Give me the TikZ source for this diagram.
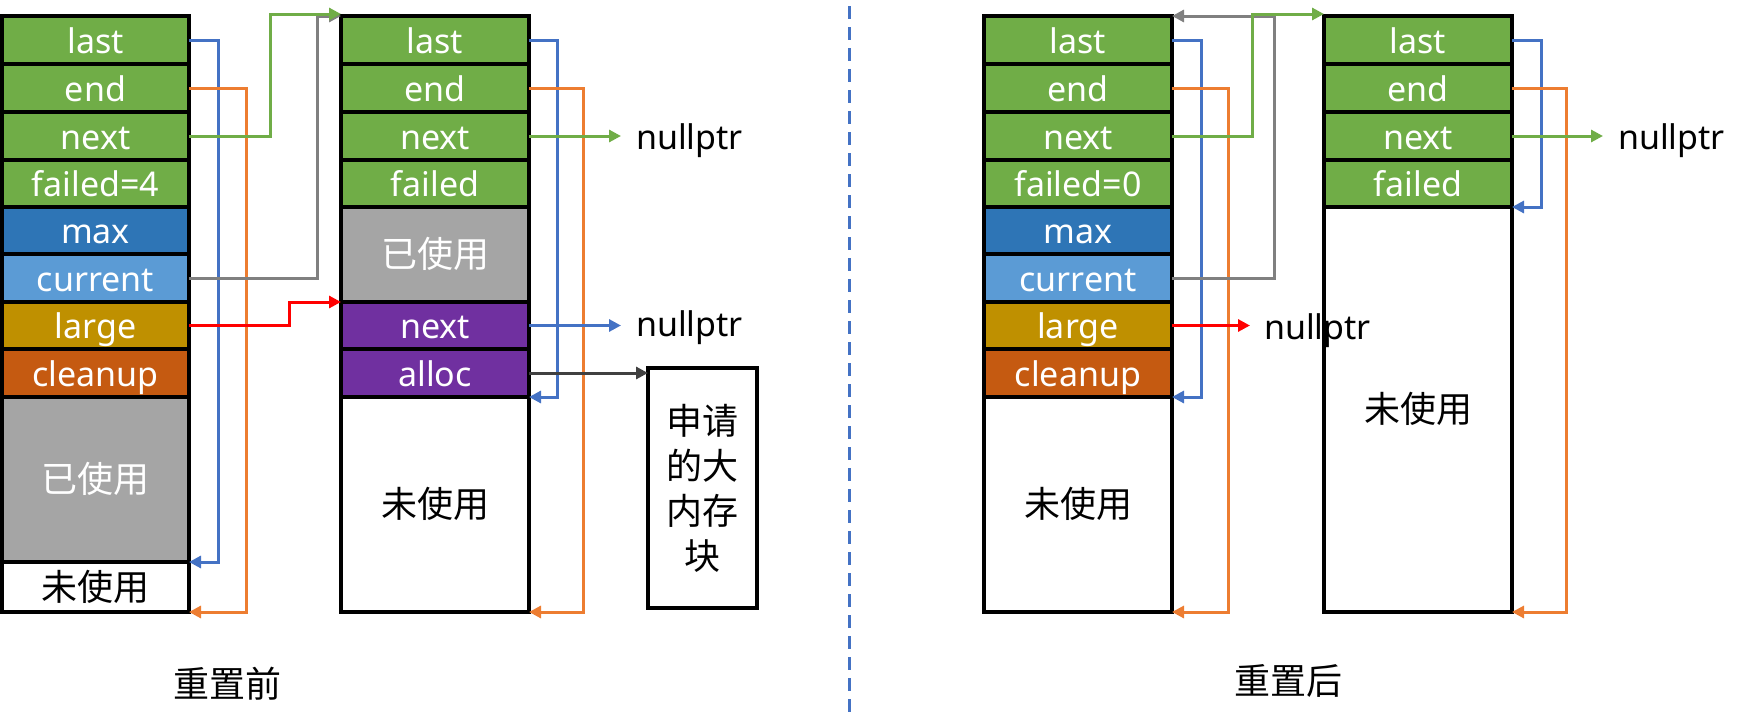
\documentclass[tikz,border=0pt]{standalone}
\usepackage{fontspec}
\setmainfont{Noto Sans}
\newfontfamily\latf{Noto Sans}
\newfontfamily\cjkf{Noto Sans CJK SC}
\usetikzlibrary{arrows.meta}
\definecolor{cgreen}{HTML}{70AD47}
\definecolor{cmax}{HTML}{2E75B6}
\definecolor{ccur}{HTML}{5B9BD5}
\definecolor{clarge}{HTML}{BF9000}
\definecolor{cclean}{HTML}{C55A11}
\definecolor{cused}{HTML}{A5A5A5}
\definecolor{cpurple}{HTML}{7030A0}
\definecolor{lblue}{HTML}{4472C4}
\definecolor{lorange}{HTML}{ED7D31}
\definecolor{lgray}{HTML}{808080}
\definecolor{lred}{HTML}{FF0000}
\definecolor{ldark}{HTML}{404040}
\newcommand\latsz{\latf\fontsize{34}{40}\selectfont}
\newcommand\cjksz{\cjkf\fontsize{36}{45}\selectfont}
\tikzset{
  cell/.style={draw=black, line width=4pt, inner sep=0pt, outer sep=0pt,
    text=white, font=\latsz, text height=26pt, text depth=0pt},
  colA/.style={cell, minimum width=187pt},
  colB/.style={cell, minimum width=188pt},
  cjkcell/.style={font=\cjksz},
  plain/.style={inner sep=0pt, outer sep=0pt, text=black, text height=26pt, text depth=0pt},
  nulltext/.style={plain, font=\latsz, anchor=west},
  caption/.style={plain, font=\cjksz},
  arr/.style={line width=3pt, -{Triangle[length=12pt,width=12pt]}},
  divline/.style={line width=3pt, draw=lblue, dash pattern=on 13pt off 8pt}
}
\begin{document}
\begin{tikzpicture}[x=1pt, y=-1pt]
\useasboundingbox (0,0) rectangle (1749,728);
% ---------- column A ----------
\node[colA, fill=cgreen, minimum height=48pt] (A1) at (95.5,40) {last};
\node[colA, fill=cgreen, minimum height=48pt] (A2) at (95.5,88) {end};
\node[colA, fill=cgreen, minimum height=48pt] (A3) at (95.5,136) {next};
\node[colA, fill=cgreen, minimum height=47pt] (A4) at (95.5,183.5) {failed=4};
\node[colA, fill=cmax, minimum height=47pt] (A5) at (95.5,230.5) {max};
\node[colA, fill=ccur, minimum height=48pt] (A6) at (95.5,278) {current};
\node[colA, fill=clarge, minimum height=47pt] (A7) at (95.5,325.5) {large};
\node[colA, fill=cclean, minimum height=48pt] (A8) at (95.5,373) {cleanup};
\node[colA, cjkcell, fill=cused, minimum height=165pt] (A9) at (95.5,479.5) {已使用};
\node[colA, cjkcell, fill=white, text=black, minimum height=50pt] (A10) at (95.5,587) {未使用};
% ---------- column B ----------
\node[colB, fill=cgreen, minimum height=48pt] (B1) at (435,40) {last};
\node[colB, fill=cgreen, minimum height=48pt] (B2) at (435,88) {end};
\node[colB, fill=cgreen, minimum height=48pt] (B3) at (435,136) {next};
\node[colB, fill=cgreen, minimum height=47pt] (B4) at (435,183.5) {failed};
\node[colB, cjkcell, fill=cused, minimum height=95pt] (B5) at (435,254.5) {已使用};
\node[colB, fill=cpurple, minimum height=47pt] (B6) at (435,325.5) {next};
\node[colB, fill=cpurple, minimum height=48pt] (B7) at (435,373) {alloc};
\node[colB, cjkcell, fill=white, text=black, minimum height=215pt] (B8) at (435,504.5) {未使用};
% ---------- big block ----------
\node[cell, font=\cjkf\fontsize{36}{45}\selectfont, text=black, fill=white, align=center,
      minimum width=109pt, minimum height=240pt, text height=, text depth=] (C) at (702.5,488)
      {申请\\的大\\内存\\块};
% ---------- column D ----------
\node[colB, fill=cgreen, minimum height=48pt] (D1) at (1078,40) {last};
\node[colB, fill=cgreen, minimum height=48pt] (D2) at (1078,88) {end};
\node[colB, fill=cgreen, minimum height=48pt] (D3) at (1078,136) {next};
\node[colB, fill=cgreen, minimum height=47pt] (D4) at (1078,183.5) {failed=0};
\node[colB, fill=cmax, minimum height=47pt] (D5) at (1078,230.5) {max};
\node[colB, fill=ccur, minimum height=48pt] (D6) at (1078,278) {current};
\node[colB, fill=clarge, minimum height=47pt] (D7) at (1078,325.5) {large};
\node[colB, fill=cclean, minimum height=48pt] (D8) at (1078,373) {cleanup};
\node[colB, cjkcell, fill=white, text=black, minimum height=215pt] (D9) at (1078,504.5) {未使用};
% ---------- column E ----------
\node[colB, fill=cgreen, minimum height=48pt] (E1) at (1418,40) {last};
\node[colB, fill=cgreen, minimum height=48pt] (E2) at (1418,88) {end};
\node[colB, fill=cgreen, minimum height=48pt] (E3) at (1418,136) {next};
\node[colB, fill=cgreen, minimum height=47pt] (E4) at (1418,183.5) {failed};
\node[colB, cjkcell, fill=white, text=black, minimum height=405pt] (E5) at (1418,409.5) {未使用};
% ---------- nullptr labels ----------
\node[nulltext] (N1) at (636,136) {nullptr};
\node[nulltext] (N2) at (636,323) {nullptr};
\node[nulltext] (N3) at (1264,326) {nullptr};
\node[nulltext] (N4) at (1618,136) {nullptr};
% ---------- captions ----------
\node[caption] (T1) at (227,684) {重置前};
\node[caption] (T2) at (1288,681) {重置后};
% ---------- divider ----------
\coordinate (V1) at (849.5,6);
\coordinate (V2) at (849.5,714);
\draw[divline] (V1) -- (V2);
% ---------- connectors: before reset ----------
\draw[arr, draw=lblue] (A1.east) -- ++(29,0) |- (A10.north east);
\draw[arr, draw=lorange] (A2.east) -- ++(57,0) |- (A10.south east);
\draw[arr, draw=lgray] (A6.east) -- ++(128,0) |- (B1.north west);
\draw[arr, draw=cgreen] (A3.east) -- ++(81,0) |- ([yshift=2pt]B1.north west);
\draw[arr, draw=lred] (A7.east) -- ++(100,0) |- (B6.north west);
\draw[arr, draw=lblue] (B1.east) -- ++(28,0) |- (B8.north east);
\draw[arr, draw=lorange] (B2.east) -- ++(54,0) |- (B8.south east);
\draw[arr, draw=cgreen, shorten >=15pt] (B3.east) -- (N1.west);
\draw[arr, draw=lblue, shorten >=15pt] (B6.east) -- (B6.east -| N2.west);
\draw[arr, draw=ldark] (B7.east) -- (B7.east -| C.west);
% ---------- connectors: after reset ----------
\draw[arr, draw=lblue] (D1.east) -- ++(29,0) |- (D9.north east);
\draw[arr, draw=lorange] (D2.east) -- ++(56,0) |- (D9.south east);
\draw[arr, draw=lgray] (D6.east) -- ++(102,0) |- (D1.north east);
\draw[arr, draw=cgreen] (D3.east) -- ++(80,0) |- ([yshift=2pt]E1.north west);
\draw[arr, draw=lred, shorten >=14pt] (D7.east) -- (D7.east -| N3.west);
\draw[arr, draw=lblue] (E1.east) -- ++(29,0) |- (E5.north east);
\draw[arr, draw=lorange] (E2.east) -- ++(54,0) |- (E5.south east);
\draw[arr, draw=cgreen, shorten >=15pt] (E3.east) -- (N4.west);
\end{tikzpicture}
\end{document}
